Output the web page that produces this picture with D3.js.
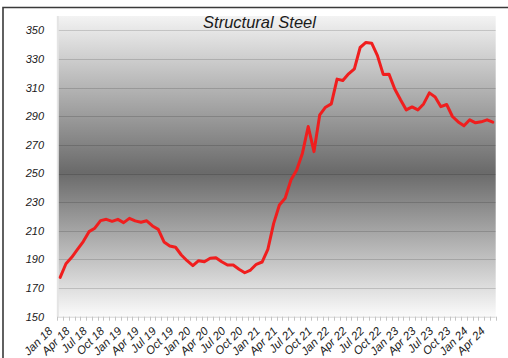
<!DOCTYPE html>
<html>
<head>
<meta charset="utf-8">
<script src="https://cdn.jsdelivr.net/npm/d3@7"></script>
<style>
  html, body { margin: 0; padding: 0; background: #fff; }
  svg { display: block; }
  text { font-family: "Liberation Sans", Arial, sans-serif; font-style: italic; fill: #1a1a1a; }
</style>
</head>
<body>
<svg id="chart" width="508" height="358"></svg>
<script>
// Monthly structural steel index, Jan 2018 – Apr 2024
const months = [
  "Jan 18","Feb 18","Mar 18","Apr 18","May 18","Jun 18","Jul 18","Aug 18","Sep 18","Oct 18","Nov 18","Dec 18",
  "Jan 19","Feb 19","Mar 19","Apr 19","May 19","Jun 19","Jul 19","Aug 19","Sep 19","Oct 19","Nov 19","Dec 19",
  "Jan 20","Feb 20","Mar 20","Apr 20","May 20","Jun 20","Jul 20","Aug 20","Sep 20","Oct 20","Nov 20","Dec 20",
  "Jan 21","Feb 21","Mar 21","Apr 21","May 21","Jun 21","Jul 21","Aug 21","Sep 21","Oct 21","Nov 21","Dec 21",
  "Jan 22","Feb 22","Mar 22","Apr 22","May 22","Jun 22","Jul 22","Aug 22","Sep 22","Oct 22","Nov 22","Dec 22",
  "Jan 23","Feb 23","Mar 23","Apr 23","May 23","Jun 23","Jul 23","Aug 23","Sep 23","Oct 23","Nov 23","Dec 23",
  "Jan 24","Feb 24","Mar 24","Apr 24"
];

const price = [
  177.5, 187.0, 191.5, 197.0, 202.5, 209.4, 211.8, 217.1, 218.0, 216.6, 218.0, 215.7,
  218.7, 216.9, 216.0, 217.0, 213.4, 211.0, 202.2, 199.4, 198.5, 193.1, 189.1, 185.7,
  189.1, 188.4, 190.8, 191.2, 188.4, 186.1, 186.1, 183.1, 180.7, 182.6, 186.6, 188.2,
  197.0, 215.0, 228.0, 232.7, 245.5, 252.5, 264.2, 282.8, 265.3, 291.0, 296.3, 298.6,
  315.9, 314.9, 319.6, 323.1, 338.0, 341.5, 341.0, 332.3, 319.2, 319.4, 309.0, 301.5,
  294.4, 296.5, 294.4, 298.6, 306.3, 303.5, 296.7, 298.2, 289.8, 286.0, 283.3, 287.5,
  285.4, 286.1, 287.5, 285.9
];

const yTicks = [150, 170, 190, 210, 230, 250, 270, 290, 310, 330, 350];

const xLabels = [
  "Jan 18","Apr 18","Jul 18","Oct 18","Jan 19","Apr 19","Jul 19","Oct 19",
  "Jan 20","Apr 20","Jul 20","Oct 20","Jan 21","Apr 21","Jul 21","Oct 21",
  "Jan 22","Apr 22","Jul 22","Oct 22","Jan 23","Apr 23","Jul 23","Oct 23",
  "Jan 24","Apr 24"
];

const title = "Structural Steel";

const svg = d3.select("#chart");
const plot = { left: 57.3, right: 495.7, top: 16, bottom: 316.7 };

const x = d3.scaleBand().domain(months).range([plot.left, plot.right]).padding(0);
const cx = m => x(m) + x.bandwidth() / 2;
const y = d3.scaleLinear().domain([150, 360]).range([plot.bottom, plot.top]);

// Plot-area fill: light at top, dark through the middle, near white at the bottom
const defs = svg.append("defs");
const grad = defs.append("linearGradient")
  .attr("id", "plotFill").attr("x1", 0).attr("y1", 0).attr("x2", 0).attr("y2", 1);
grad.append("stop").attr("offset", "0%").attr("stop-color", "#f3f3f3");
grad.append("stop").attr("offset", "52%").attr("stop-color", "#6a6a6a");
grad.append("stop").attr("offset", "100%").attr("stop-color", "#fbfbfb");

svg.append("rect")
  .attr("x", plot.left).attr("y", plot.top)
  .attr("width", plot.right - plot.left).attr("height", plot.bottom - plot.top)
  .attr("fill", "url(#plotFill)");

// Horizontal gridlines
svg.append("g").selectAll("line")
  .data(yTicks.filter(v => v > 150))
  .join("line")
  .attr("x1", plot.left).attr("x2", plot.right)
  .attr("y1", d => Math.round(y(d)) + 0.5).attr("y2", d => Math.round(y(d)) + 0.5)
  .attr("stroke", "#000").attr("stroke-opacity", 0.15).attr("stroke-width", 1);

// Value axis line (pale) and labels
svg.append("line")
  .attr("x1", plot.left + 0.5).attr("x2", plot.left + 0.5)
  .attr("y1", plot.top).attr("y2", plot.bottom)
  .attr("stroke", "#e4e4e4").attr("stroke-width", 2);

svg.append("g").selectAll("text")
  .data(yTicks)
  .join("text")
  .attr("x", 44).attr("y", d => y(d))
  .attr("dy", "0.36em")
  .attr("text-anchor", "end")
  .attr("font-size", 11)
  .text(d => d);

// Category axis: baseline, boundary ticks, rotated labels
svg.append("line")
  .attr("x1", plot.left).attr("x2", plot.right)
  .attr("y1", plot.bottom + 0.5).attr("y2", plot.bottom + 0.5)
  .attr("stroke", "#d4d4d4").attr("stroke-width", 1);

const tickPos = months.map(m => x(m)).concat([plot.right]);
svg.append("g").selectAll("line")
  .data(tickPos)
  .join("line")
  .attr("x1", d => Math.round(d) + 0.5).attr("x2", d => Math.round(d) + 0.5)
  .attr("y1", plot.bottom).attr("y2", plot.bottom + 4)
  .attr("stroke", "#c4c4c4").attr("stroke-width", 1);

svg.append("g").selectAll("text")
  .data(xLabels)
  .join("text")
  .attr("transform", d => `translate(${cx(d) - 7},${plot.bottom + 15}) rotate(-45)`)
  .attr("text-anchor", "end")
  .attr("font-size", 11.5)
  .text(d => d);

// Price line
const line = d3.line()
  .x((d, i) => cx(months[i]))
  .y(d => y(d));

svg.append("path")
  .datum(price)
  .attr("d", line)
  .attr("fill", "none")
  .attr("stroke", "#f01e1e")
  .attr("stroke-width", 3)
  .attr("stroke-linejoin", "round")
  .attr("stroke-linecap", "round");

// Title
svg.append("text")
  .attr("x", 259.5).attr("y", 27.5)
  .attr("text-anchor", "middle")
  .attr("font-size", 16.5)
  .text(title);

// Outer frame (top and left edges fall inside the canvas)
svg.append("path")
  .attr("d", "M3,358 L3,7.5 L508,7.5")
  .attr("fill", "none")
  .attr("stroke", "#3a3a3a")
  .attr("stroke-width", 1.6);
</script>
</body>
</html>
